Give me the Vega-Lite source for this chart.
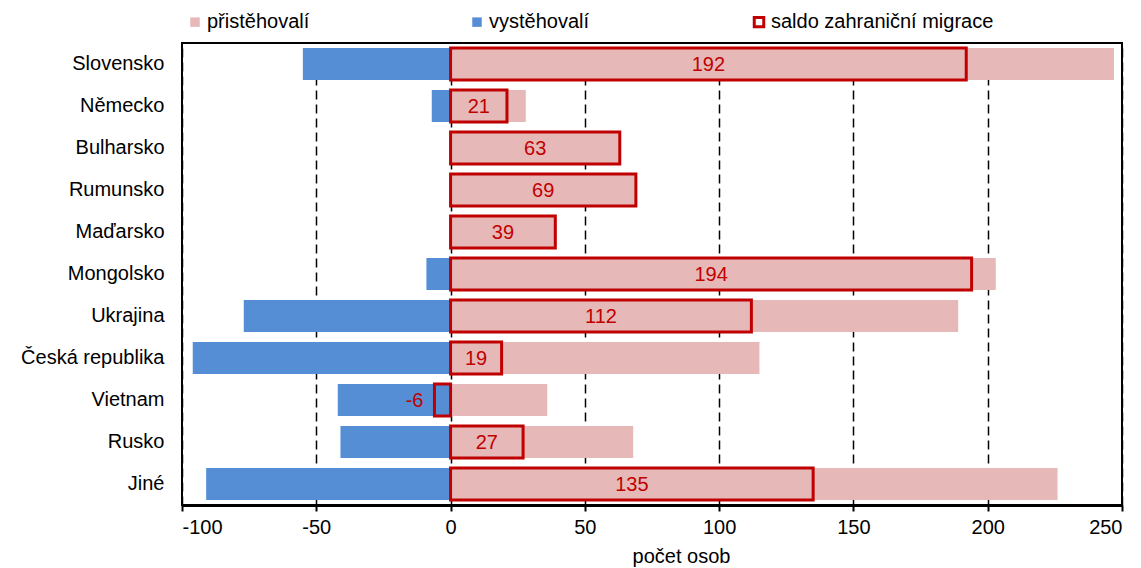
{
  "$schema": "https://vega.github.io/schema/vega-lite/v6.json",
  "width": 940,
  "height": 462,
  "autosize": {"type": "none"},
  "padding": {"left": 182, "top": 43, "right": 19, "bottom": 63},
  "config": {
    "font": "Liberation Sans",
    "view": {"stroke": "black", "strokeWidth": 2},
    "axis": {"labelFont": "Liberation Sans", "titleFont": "Liberation Sans", "labelColor": "black", "titleColor": "black"},
    "legend": {"labelFont": "Liberation Sans"}
  },
  "datasets": {
    "flows": [
      {"zeme": "Slovensko", "typ": "přistěhovalí", "hodnota": 247},
      {"zeme": "Slovensko", "typ": "vystěhovalí", "hodnota": -55},
      {"zeme": "Německo", "typ": "přistěhovalí", "hodnota": 28},
      {"zeme": "Německo", "typ": "vystěhovalí", "hodnota": -7},
      {"zeme": "Bulharsko", "typ": "přistěhovalí", "hodnota": 63},
      {"zeme": "Bulharsko", "typ": "vystěhovalí", "hodnota": 0},
      {"zeme": "Rumunsko", "typ": "přistěhovalí", "hodnota": 69},
      {"zeme": "Rumunsko", "typ": "vystěhovalí", "hodnota": 0},
      {"zeme": "Maďarsko", "typ": "přistěhovalí", "hodnota": 39},
      {"zeme": "Maďarsko", "typ": "vystěhovalí", "hodnota": 0},
      {"zeme": "Mongolsko", "typ": "přistěhovalí", "hodnota": 203},
      {"zeme": "Mongolsko", "typ": "vystěhovalí", "hodnota": -9},
      {"zeme": "Ukrajina", "typ": "přistěhovalí", "hodnota": 189},
      {"zeme": "Ukrajina", "typ": "vystěhovalí", "hodnota": -77},
      {"zeme": "Česká republika", "typ": "přistěhovalí", "hodnota": 115},
      {"zeme": "Česká republika", "typ": "vystěhovalí", "hodnota": -96},
      {"zeme": "Vietnam", "typ": "přistěhovalí", "hodnota": 36},
      {"zeme": "Vietnam", "typ": "vystěhovalí", "hodnota": -42},
      {"zeme": "Rusko", "typ": "přistěhovalí", "hodnota": 68},
      {"zeme": "Rusko", "typ": "vystěhovalí", "hodnota": -41},
      {"zeme": "Jiné", "typ": "přistěhovalí", "hodnota": 226},
      {"zeme": "Jiné", "typ": "vystěhovalí", "hodnota": -91}
    ],
    "saldo": [
      {"zeme": "Slovensko", "typ": "saldo zahraniční migrace", "hodnota": 192},
      {"zeme": "Německo", "typ": "saldo zahraniční migrace", "hodnota": 21},
      {"zeme": "Bulharsko", "typ": "saldo zahraniční migrace", "hodnota": 63},
      {"zeme": "Rumunsko", "typ": "saldo zahraniční migrace", "hodnota": 69},
      {"zeme": "Maďarsko", "typ": "saldo zahraniční migrace", "hodnota": 39},
      {"zeme": "Mongolsko", "typ": "saldo zahraniční migrace", "hodnota": 194},
      {"zeme": "Ukrajina", "typ": "saldo zahraniční migrace", "hodnota": 112},
      {"zeme": "Česká republika", "typ": "saldo zahraniční migrace", "hodnota": 19},
      {"zeme": "Vietnam", "typ": "saldo zahraniční migrace", "hodnota": -6},
      {"zeme": "Rusko", "typ": "saldo zahraniční migrace", "hodnota": 27},
      {"zeme": "Jiné", "typ": "saldo zahraniční migrace", "hodnota": 135}
    ]
  },
  "encoding": {
    "y": {
      "field": "zeme",
      "type": "nominal",
      "sort": ["Slovensko", "Německo", "Bulharsko", "Rumunsko", "Maďarsko", "Mongolsko", "Ukrajina", "Česká republika", "Vietnam", "Rusko", "Jiné"],
      "scale": {"paddingInner": 0.24, "paddingOuter": 0.12},
      "axis": {"title": null, "ticks": false, "domain": false, "labelFontSize": 20, "labelPadding": 18}
    }
  },
  "layer": [
    {
      "data": {"name": "flows"},
      "mark": {"type": "bar", "strokeWidth": 0},
      "encoding": {
        "x": {
          "field": "hodnota",
          "type": "quantitative",
          "stack": null,
          "scale": {"domain": [-100, 250], "nice": false},
          "axis": {
            "values": [-100, -50, 0, 50, 100, 150, 200, 250],
            "labelExpr": "replace(datum.label, '−', '-')",
            "title": "počet osob",
            "titleFontSize": 20,
            "titleFontWeight": "normal",
            "titleX": 499,
            "titleAlign": "center",
            "titlePadding": 9,
            "labelFontSize": 20,
            "labelPadding": 6,
            "domainColor": "black",
            "domainWidth": 3,
            "tickColor": "black",
            "tickWidth": 2,
            "tickSize": 6,
            "grid": true,
            "gridColor": "black",
            "gridWidth": 1.5,
            "gridDash": [9, 5]
          }
        },
        "fill": {
          "field": "typ",
          "type": "nominal",
          "scale": {"domain": ["přistěhovalí", "vystěhovalí", "saldo zahraniční migrace"], "range": ["#e6b9b8", "#558ed5", "transparent"]},
          "legend": {
            "title": null,
            "orient": "none",
            "legendX": 3,
            "legendY": -31,
            "direction": "horizontal",
            "columns": 3,
            "gridAlign": "all",
            "columnPadding": 36,
            "symbolType": "square",
            "symbolSize": 90,
            "symbolStrokeWidth": 3,
            "labelFontSize": 20,
            "labelColor": "black",
            "labelOffset": 2,
            "labelLimit": 400
          }
        },
        "stroke": {
          "field": "typ",
          "type": "nominal",
          "scale": {"domain": ["přistěhovalí", "vystěhovalí", "saldo zahraniční migrace"], "range": ["transparent", "transparent", "#c00000"]},
          "legend": {
            "title": null,
            "orient": "none",
            "legendX": 3,
            "legendY": -31,
            "direction": "horizontal",
            "columns": 3,
            "gridAlign": "all",
            "columnPadding": 36,
            "symbolType": "square",
            "symbolSize": 90,
            "symbolStrokeWidth": 3,
            "labelFontSize": 20,
            "labelColor": "black",
            "labelOffset": 2,
            "labelLimit": 400
          }
        }
      }
    },
    {
      "data": {"name": "saldo"},
      "mark": {"type": "bar", "strokeWidth": 3},
      "encoding": {
        "x": {"field": "hodnota", "type": "quantitative", "stack": null},
        "fill": {"field": "typ", "type": "nominal"},
        "stroke": {"field": "typ", "type": "nominal"}
      }
    },
    {
      "mark": {"type": "rule", "color": "black", "strokeWidth": 3},
      "encoding": {"x": {"datum": 0}, "y": {"value": 0}, "y2": {"value": 462}}
    },
    {
      "data": {"name": "saldo"},
      "transform": [{"filter": "datum.hodnota > 0"}, {"calculate": "datum.hodnota / 2", "as": "pozice_popisku"}],
      "mark": {"type": "text", "color": "#c00000", "fontSize": 20, "align": "center", "baseline": "middle", "dy": 1},
      "encoding": {
        "x": {"field": "pozice_popisku", "type": "quantitative"},
        "text": {"field": "hodnota", "type": "nominal"}
      }
    },
    {
      "data": {"name": "saldo"},
      "transform": [{"filter": "datum.hodnota < 0"}],
      "mark": {"type": "text", "color": "#c00000", "fontSize": 20, "align": "right", "baseline": "middle", "dx": -11, "dy": 1},
      "encoding": {
        "x": {"field": "hodnota", "type": "quantitative"},
        "text": {"field": "hodnota", "type": "nominal"}
      }
    }
  ]
}
